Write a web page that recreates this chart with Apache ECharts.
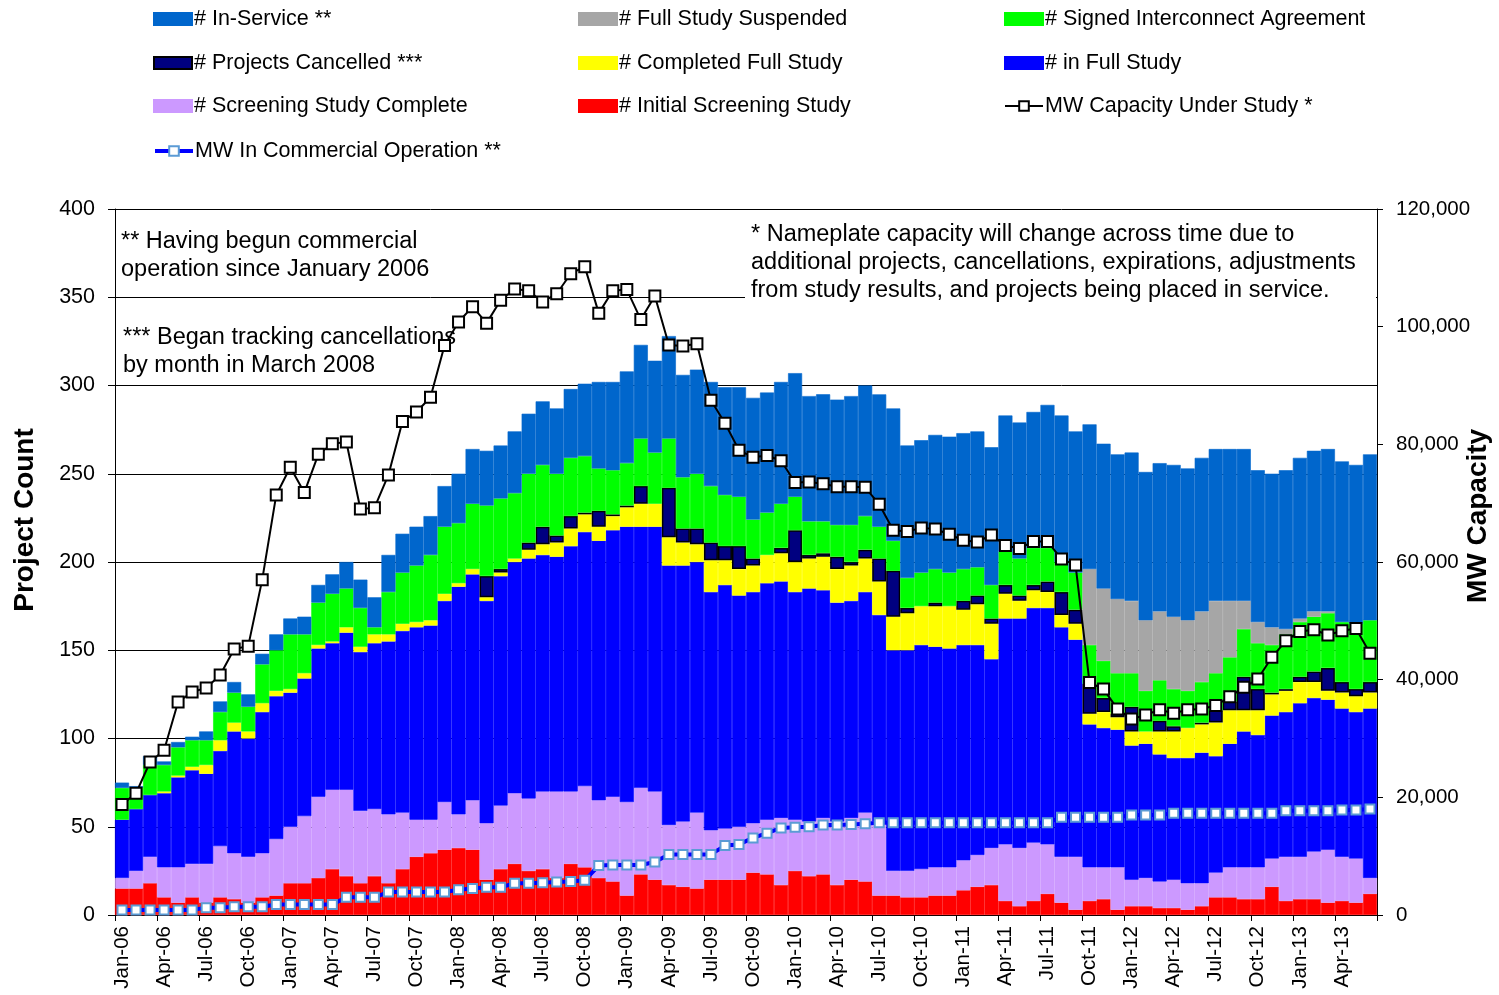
<!DOCTYPE html>
<html><head><meta charset="utf-8">
<script src="https://cdn.jsdelivr.net/npm/echarts@6/dist/echarts.min.js"></script>
<style>html,body{margin:0;padding:0;background:#fff}#chart{width:1499px;height:995px}</style>
</head><body><div id="chart"></div>
<script>
const months = ["Jan-06","Feb-06","Mar-06","Apr-06","May-06","Jun-06","Jul-06","Aug-06","Sep-06","Oct-06","Nov-06","Dec-06",
"Jan-07","Feb-07","Mar-07","Apr-07","May-07","Jun-07","Jul-07","Aug-07","Sep-07","Oct-07","Nov-07","Dec-07",
"Jan-08","Feb-08","Mar-08","Apr-08","May-08","Jun-08","Jul-08","Aug-08","Sep-08","Oct-08","Nov-08","Dec-08",
"Jan-09","Feb-09","Mar-09","Apr-09","May-09","Jun-09","Jul-09","Aug-09","Sep-09","Oct-09","Nov-09","Dec-09",
"Jan-10","Feb-10","Mar-10","Apr-10","May-10","Jun-10","Jul-10","Aug-10","Sep-10","Oct-10","Nov-10","Dec-10",
"Jan-11","Feb-11","Mar-11","Apr-11","May-11","Jun-11","Jul-11","Aug-11","Sep-11","Oct-11","Nov-11","Dec-11",
"Jan-12","Feb-12","Mar-12","Apr-12","May-12","Jun-12","Jul-12","Aug-12","Sep-12","Oct-12","Nov-12","Dec-12",
"Jan-13","Feb-13","Mar-13","Apr-13","May-13","Jun-13"];

const initialScreening = [15,15,18,10,7,10,7,10,9,7,
 10,11,18,18,21,26,22,18,22,18,
 26,33,35,37,38,37,20,26,29,25,
 26,21,29,27,21,19,11,23,20,17,
 16,15,20,20,20,24,23,17,25,22,
 23,17,20,19,11,11,10,10,11,11,
 14,16,17,8,5,8,12,7,3,8,
 9,3,5,5,4,4,3,5,10,10,
 9,9,16,8,9,9,7,8,7,12];
const screeningComplete = [6,10,15,17,20,19,22,29,26,26,
 25,32,32,38,46,45,49,41,38,39,
 32,21,19,27,19,28,32,36,40,41,
 44,49,41,46,44,48,53,49,50,34,
 37,43,28,29,30,28,31,38,29,31,
 32,36,35,39,42,14,15,16,16,16,
 17,18,21,32,33,33,28,26,30,19,
 18,24,15,16,15,16,15,13,14,17,
 18,18,16,25,24,27,30,25,25,9];
const inFullStudy = [33,35,35,42,51,53,51,54,69,67,
 80,81,76,78,84,83,89,90,94,98,
 103,109,110,114,129,128,126,130,131,136,
 134,133,139,144,147,151,156,148,150,147,
 145,142,135,138,131,131,134,134,129,132,
 129,124,123,125,117,125,125,127,125,124,
 122,119,107,128,130,133,134,130,123,81,
 79,78,76,76,72,69,71,74,66,70,
 77,75,81,82,87,87,85,84,83,96];
const completedFullStudy = [0,0,0,1,1,2,5,6,5,4,
 5,3,2,3,2,1,3,3,5,4,
 4,3,3,4,2,3,2,2,2,5,
 6,8,10,10,8,8,11,13,13,16,
 13,10,18,14,15,15,16,16,17,17,
 19,19,20,19,19,19,21,22,23,24,
 20,23,20,14,10,10,9,7,9,6,
 9,7,8,7,13,15,17,16,19,19,
 12,14,12,12,12,9,5,9,9,9];
const projectsCancelled = [0,0,0,0,0,0,0,0,0,0,
 0,0,0,0,0,0,0,0,0,0,
 0,0,0,0,0,0,12,2,0,4,
 10,4,7,1,9,1,1,10,0,28,
 8,9,10,8,13,4,0,3,18,2,
 2,7,2,5,13,26,3,0,2,0,
 5,5,3,5,3,3,6,13,8,17,
 8,2,14,0,6,3,0,1,7,5,
 19,12,1,1,3,6,13,6,4,6];
const signedIA = [18,12,17,15,16,15,14,16,17,14,
 22,23,31,22,24,27,22,22,4,24,
 29,32,37,38,34,37,40,40,37,39,
 35,35,33,32,24,25,24,27,29,28,
 29,31,32,29,28,22,24,25,19,19,
 18,18,21,19,18,17,17,19,19,19,
 18,16,19,19,21,21,19,17,21,22,
 21,23,19,23,23,21,21,23,21,25,
 27,26,27,31,31,31,31,34,37,35];
const fullStudySuspended = [0,0,0,0,0,0,0,0,0,0,
 0,0,0,0,0,0,0,0,0,0,
 0,0,0,0,0,0,0,0,0,0,
 0,0,0,0,0,0,0,0,0,0,
 0,0,0,0,0,0,0,0,0,0,
 0,0,0,0,0,0,0,0,0,0,
 0,0,0,0,0,0,0,0,0,43,
 41,42,41,40,39,41,40,40,41,32,
 16,12,10,3,2,3,1,0,0,0];
const inServiceCount = [3,1,5,2,3,2,5,6,6,7,
 6,9,9,10,10,11,15,16,17,21,
 22,22,22,23,28,31,31,30,35,34,
 36,37,39,41,49,50,52,53,52,58,
 58,59,59,61,62,69,68,69,70,71,
 72,71,73,74,75,75,75,75,76,77,
 77,77,78,77,77,77,81,83,80,82,
 82,82,84,84,84,86,86,87,86,86,
 86,86,87,90,91,91,92,91,90,94];
const mwUnderStudy = [18800,20700,26000,28000,36200,37900,38600,40800,45200,45700,
 57000,71400,76100,71800,78300,80100,80400,69000,69200,74800,
 83900,85500,88000,96800,100800,103400,100600,104500,106400,106100,
 104200,105600,109000,110200,102300,106100,106300,101200,105200,96900,
 96700,97100,87500,83600,79000,77800,78100,77200,73500,73600,
 73300,72800,72800,72700,69800,65400,65200,65800,65600,64700,
 63700,63400,64600,62800,62300,63500,63500,60500,59500,39500,
 38400,35000,33300,34000,34900,34300,34900,35000,35600,37100,
 38700,40100,43800,46600,48200,48500,47600,48300,48700,44500];
const mwInOperation = [850,850,850,850,850,850,1250,1250,1400,1400,
 1400,1800,1800,1800,1800,1800,3000,3000,3000,3900,
 3900,3900,3900,3900,4300,4500,4700,4700,5400,5400,
 5500,5600,5700,5900,8400,8500,8500,8500,9000,10300,
 10300,10300,10300,11800,12000,13100,13900,14800,14900,15000,
 15300,15300,15400,15500,15700,15700,15700,15700,15700,15700,
 15700,15700,15700,15700,15700,15700,15700,16600,16600,16600,
 16600,16600,17000,17000,17000,17300,17300,17300,17300,17300,
 17300,17300,17300,17700,17700,17700,17700,17850,17850,18000];

const F = 'Arial, "Liberation Sans", sans-serif';
const chart = echarts.init(document.getElementById('chart'), null, {renderer: 'canvas'});

const stackDefs = [
  {name: '# Initial Screening Study', data: initialScreening, color: '#FF0000'},
  {name: '# Screening Study Complete', data: screeningComplete, color: '#CC99FF'},
  {name: '# in Full Study', data: inFullStudy, color: '#0000FF'},
  {name: '# Completed Full Study', data: completedFullStudy, color: '#FFFF00'},
  {name: '# Projects Cancelled ***', data: projectsCancelled, color: '#000080', border: '#000000'},
  {name: '# Signed Interconnect Agreement', data: signedIA, color: '#00FF00'},
  {name: '# Full Study Suspended', data: fullStudySuspended, color: '#A6A6A6'},
  {name: '# In-Service **', data: inServiceCount, color: '#0066CC'}
];

const series = stackDefs.map(s => ({
  type: 'bar', name: s.name, stack: 'projects',
  barCategoryGap: '0%', barGap: '0%',
  data: s.data.map(v => v === 0 ? '-' : v),
  itemStyle: {color: s.color, borderColor: s.border || s.color, borderWidth: s.border ? 1.5 : 0.6},
  emphasis: {disabled: true},
  z: 2
}));
series.push({
  type: 'line', name: 'MW In Commercial Operation **', yAxisIndex: 1, data: mwInOperation,
  symbol: 'rect', symbolSize: 9, showAllSymbol: true,
  lineStyle: {color: '#0000FF', width: 4},
  itemStyle: {color: '#FFFFFF', borderColor: '#5B9BD5', borderWidth: 2},
  emphasis: {disabled: true}, z: 4
});
series.push({
  type: 'line', name: 'MW Capacity Under Study *', yAxisIndex: 1, data: mwUnderStudy,
  symbol: 'rect', symbolSize: 11, showAllSymbol: true,
  lineStyle: {color: '#000000', width: 2},
  itemStyle: {color: '#FFFFFF', borderColor: '#000000', borderWidth: 2},
  emphasis: {disabled: true}, z: 5
});

const legendLayout = [
  ['# In-Service **', 153, 17], ['# Full Study Suspended', 578, 17], ['# Signed Interconnect Agreement', 1004, 17],
  ['# Projects Cancelled ***', 153, 61], ['# Completed Full Study', 578, 61], ['# in Full Study', 1004, 61],
  ['# Screening Study Complete', 153, 104], ['# Initial Screening Study', 578, 104], ['MW Capacity Under Study *', 1004, 104],
  ['MW In Commercial Operation **', 153, 149]
];
const legends = legendLayout.map(([n, x, y]) => {
  const isLine = n.indexOf('MW') === 0;
  const l = {
    data: [n], left: x, top: y - 9, padding: 0, itemWidth: 38, itemHeight: 12, itemGap: 0,
    selectedMode: false,
    textStyle: {fontSize: 21.5, fontFamily: F, color: '#000', padding: [0, 0, 0, -3]}
  };
  if (!isLine) l.icon = 'rect';
  else if (n.indexOf('Commercial') > 0) l.lineStyle = {width: 4};
  return l;
});

const annotFont = '23.5px ' + F;
const option = {
  animation: false,
  backgroundColor: '#ffffff',
  legend: legends,
  grid: {left: 115, right: 122, top: 209, bottom: 80, containLabel: false, outerBoundsMode: 'none'},
  xAxis: {
    type: 'category', data: months, boundaryGap: true,
    axisLine: {show: true, lineStyle: {color: '#000', width: 1}},
    axisTick: {show: true, interval: 2, length: 6, alignWithLabel: false, lineStyle: {color: '#000'}},
    axisLabel: {interval: 2, rotate: 90, fontSize: 20.5, fontFamily: F, color: '#000', margin: 11, hideOverlap: false},
    splitLine: {show: false}
  },
  yAxis: [
    {
      type: 'value', min: 0, max: 400, interval: 50, position: 'left',
      axisLine: {show: true, lineStyle: {color: '#000', width: 1}},
      axisTick: {show: true, length: 7, lineStyle: {color: '#000'}},
      axisLabel: {fontSize: 21.5, fontFamily: F, color: '#000', margin: 20},
      splitLine: {show: true, lineStyle: {color: '#000', width: 1}}
    },
    {
      type: 'value', min: 0, max: 120000, interval: 20000, position: 'right',
      axisLine: {show: true, lineStyle: {color: '#000', width: 1}},
      axisTick: {show: true, length: 6, lineStyle: {color: '#000'}},
      axisLabel: {fontSize: 20.5, fontFamily: F, color: '#000', margin: 19,
        formatter: v => v.toLocaleString('en-US')},
      splitLine: {show: false}
    }
  ],
  graphic: [
    {type: 'text', x: 121, y: 228, z: 1, style: {text: '** Having begun commercial\noperation since January 2006', font: annotFont, fill: '#000', lineHeight: 28, verticalAlign: 'top'}},
    {type: 'text', x: 123, y: 324, z: 1, style: {text: '*** Began tracking cancellations\nby month in March 2008', font: annotFont, fill: '#000', lineHeight: 28, verticalAlign: 'top'}},
    {type: 'rect', z: 1, shape: {x: 745, y: 218, width: 631, height: 86}, style: {fill: '#ffffff'}},
    {type: 'text', x: 751, y: 221, z: 1, style: {text: '* Nameplate capacity will change across time due to\nadditional projects, cancellations, expirations, adjustments\nfrom study results, and projects being placed in service.', font: annotFont, fill: '#000', lineHeight: 28, verticalAlign: 'top'}},
    {type: 'text', x: 25, y: 520, rotation: Math.PI / 2, z: 1, style: {text: 'Project Count', font: 'bold 28px ' + F, fill: '#000', align: 'center', verticalAlign: 'middle'}},
    {type: 'text', x: 1478, y: 516, rotation: Math.PI / 2, z: 1, style: {text: 'MW Capacity', font: 'bold 28px ' + F, fill: '#000', align: 'center', verticalAlign: 'middle'}}
  ],
  series: series
};
chart.setOption(option);
</script>
</body></html>
